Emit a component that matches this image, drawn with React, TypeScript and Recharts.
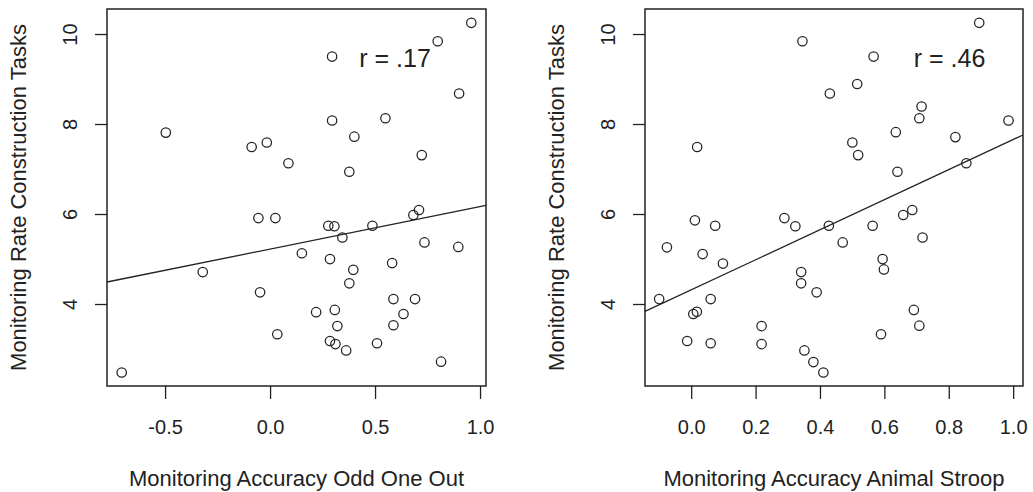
import React from 'react';
import { ScatterChart, Scatter, XAxis, YAxis, ReferenceArea, ReferenceLine, ReferenceDot, Label } from 'recharts';

// Odd One Out accuracy vs construction-task monitoring rate
const oddAcc = [
  -0.709, -0.499, -0.323, -0.09, -0.018, -0.058, 0.023, -0.05, 0.032, 0.085, 0.149,
  0.217, 0.275, 0.304, 0.283, 0.293, 0.293, 0.306, 0.318, 0.283, 0.309, 0.342,
  0.36, 0.375, 0.399, 0.394, 0.375, 0.485, 0.507, 0.547, 0.579, 0.585, 0.585,
  0.633, 0.688, 0.68, 0.707, 0.72, 0.733, 0.796, 0.812, 0.894, 0.898, 0.956,
];
const oddRate = [
  2.49, 7.82, 4.72, 7.5, 7.6, 5.92, 5.92, 4.27, 3.34, 7.14, 5.14,
  3.83, 5.75, 5.74, 5.01, 9.51, 8.09, 3.88, 3.52, 3.19, 3.12, 5.49,
  2.98, 6.95, 7.73, 4.77, 4.47, 5.75, 3.14, 8.14, 4.92, 4.12, 3.54,
  3.79, 4.12, 5.99, 6.1, 7.32, 5.38, 9.85, 2.73, 5.28, 8.69, 10.26,
];

// Animal Stroop accuracy vs construction-task monitoring rate
const stroopAcc = [
  0.017, 0.01, 0.073, -0.077, 0.034, 0.097, -0.101, 0.059, 0.005, 0.016, 0.217, -0.014,
  0.059, 0.217, 0.893, 0.344, 0.565, 0.514, 0.429, 0.714, 0.707, 0.984, 0.634, 0.819,
  0.499, 0.517, 0.853, 0.639, 0.288, 0.322, 0.426, 0.562, 0.657, 0.685, 0.717, 0.469,
  0.593, 0.597, 0.34, 0.34, 0.388, 0.69, 0.707, 0.588, 0.35, 0.378, 0.409,
];
const stroopRate = [
  7.5, 5.87, 5.75, 5.27, 5.12, 4.91, 4.12, 4.12, 3.79, 3.84, 3.52, 3.19,
  3.14, 3.12, 10.26, 9.85, 9.51, 8.9, 8.69, 8.4, 8.14, 8.09, 7.83, 7.72,
  7.6, 7.32, 7.14, 6.95, 5.92, 5.74, 5.75, 5.75, 5.99, 6.1, 5.49, 5.38,
  5.01, 4.78, 4.72, 4.47, 4.27, 3.88, 3.53, 3.34, 2.98, 2.72, 2.49,
];

const yTicks = [4, 6, 8, 10];
const oddTicks = [-0.5, 0, 0.5, 1];
const stroopTicks = [0, 0.2, 0.4, 0.6, 0.8, 1];

const yDomain: [number, number] = [2.189, 10.567];
const oddDomain: [number, number] = [-0.779, 1.026];
const stroopDomain: [number, number] = [-0.145, 1.029];

// fitted lines as drawn (intercept, slope)
const oddFit = { a: 5.234, b: 0.942 };
const stroopFit = { a: 4.33, b: 3.34 };

const ink = '#222';
const font = 'Liberation Sans, Arial, Helvetica, sans-serif';

const Ring = (props: any) => (
  <circle cx={props.cx} cy={props.cy} r={4.7} fill="none" stroke={ink} strokeWidth={1.25} />
);

const XTick = (props: any) => (
  <text x={props.x} y={props.y + 35} textAnchor="middle" fontSize={20} fontFamily={font} fill={ink}>
    {props.payload.value.toFixed(1)}
  </text>
);

const YTick = (props: any) => {
  const x = props.x - 18;
  return (
    <text x={x} y={props.y} transform={`rotate(-90, ${x}, ${props.y})`} textAnchor="middle" fontSize={20} fontFamily={font} fill={ink}>
      {props.payload.value}
    </text>
  );
};

interface PanelProps {
  xs: number[];
  ys: number[];
  xDomain: [number, number];
  xTicks: number[];
  fit: { a: number; b: number };
  xTitle: string;
  rText: string;
  rAt: number;
  yAxisWidth: number;
  rightMargin: number;
  width: number;
}

const Panel: React.FC<PanelProps> = ({ xs, ys, xDomain, xTicks, fit, xTitle, rText, rAt, yAxisWidth, rightMargin, width }) => {
  const data = xs.map((x, i) => ({ x, y: ys[i] }));
  return (
    <ScatterChart width={width} height={492} margin={{ top: 9, right: rightMargin, bottom: 0, left: 0 }}>
      <XAxis
        type="number"
        dataKey="x"
        domain={xDomain}
        ticks={xTicks}
        allowDataOverflow
        axisLine={false}
        tickSize={13}
        tickMargin={0}
        tickLine={{ stroke: ink, strokeWidth: 1.3 }}
        tick={<XTick />}
        height={106}
      >
        <Label
          content={(p: any) => (
            <text x={p.viewBox.x + p.viewBox.width / 2} y={p.viewBox.y + 100} textAnchor="middle" fontSize={22} fontFamily={font} fill={ink}>
              {xTitle}
            </text>
          )}
        />
      </XAxis>
      <YAxis
        type="number"
        dataKey="y"
        domain={yDomain}
        ticks={yTicks}
        allowDataOverflow
        axisLine={false}
        tickSize={12}
        tickMargin={0}
        tickLine={{ stroke: ink, strokeWidth: 1.3 }}
        tick={<YTick />}
        width={yAxisWidth}
      >
        <Label
          content={(p: any) => {
            const x = p.viewBox.x + p.viewBox.width - 81;
            const y = p.viewBox.y + p.viewBox.height / 2;
            return (
              <text x={x} y={y} transform={`rotate(-90, ${x}, ${y})`} textAnchor="middle" fontSize={22} fontFamily={font} fill={ink}>
                Monitoring Rate Construction Tasks
              </text>
            );
          }}
        />
      </YAxis>
      <ReferenceArea x1={xDomain[0]} x2={xDomain[1]} y1={yDomain[0]} y2={yDomain[1]} fill="none" stroke={ink} strokeWidth={1.5} ifOverflow="visible" />
      <ReferenceLine
        segment={[
          { x: xDomain[0], y: fit.a + fit.b * xDomain[0] },
          { x: xDomain[1], y: fit.a + fit.b * xDomain[1] },
        ]}
        stroke={ink}
        strokeWidth={1.3}
        ifOverflow="visible"
      />
      <Scatter data={data} shape={Ring} isAnimationActive={false} />
      <ReferenceDot
        x={rAt}
        y={9.48}
        r={0}
        ifOverflow="visible"
        label={{ value: rText, position: 'center', fontSize: 25, fontFamily: font, fill: ink }}
      />
    </ScatterChart>
  );
};

export default function App() {
  return (
    <div style={{ position: 'absolute', left: 0, top: 0, width: 1033, height: 492, background: '#fff' }}>
      <div style={{ position: 'absolute', left: 0, top: 0 }}>
        <Panel
          xs={oddAcc}
          ys={oddRate}
          xDomain={oddDomain}
          xTicks={oddTicks}
          fit={oddFit}
          xTitle="Monitoring Accuracy Odd One Out"
          rText="r = .17"
          rAt={0.593}
          yAxisWidth={107}
          rightMargin={31}
          width={517}
        />
      </div>
      <div style={{ position: 'absolute', left: 517, top: 0 }}>
        <Panel
          xs={stroopAcc}
          ys={stroopRate}
          xDomain={stroopDomain}
          xTicks={stroopTicks}
          fit={stroopFit}
          xTitle="Monitoring Accuracy Animal Stroop"
          rText="r = .46"
          rAt={0.801}
          yAxisWidth={128}
          rightMargin={10}
          width={516}
        />
      </div>
    </div>
  );
}
